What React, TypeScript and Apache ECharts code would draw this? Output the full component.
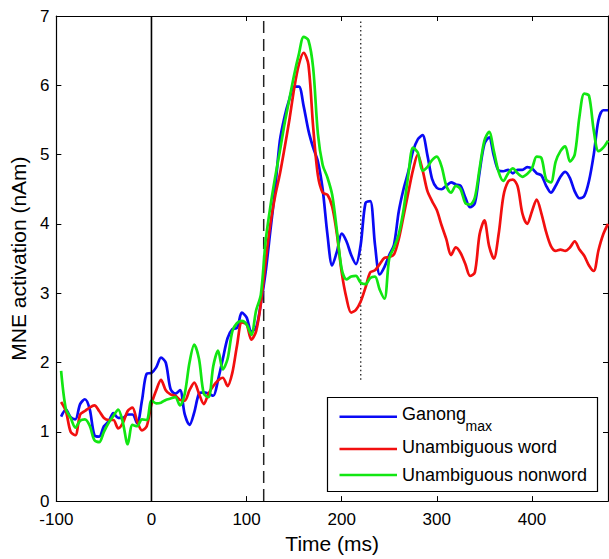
import React, { useEffect, useRef } from "react";
import * as echarts from "echarts";

const times = [
  -95, -90, -85, -80, -75, -70, -65, -60, -55, -50,
  -45, -40, -35, -30, -25, -20, -15, -10, -5, 0,
  5, 10, 15, 20, 25, 30, 35, 40, 45, 50,
  55, 60, 65, 70, 75, 80, 85, 90, 95, 100,
  105, 110, 115, 120, 125, 130, 135, 140, 145, 150,
  155, 160, 165, 170, 175, 180, 185, 190, 195, 200,
  205, 210, 215, 220, 225, 230, 235, 240, 245, 250,
  255, 260, 265, 270, 275, 280, 285, 290, 295, 300,
  305, 310, 315, 320, 325, 330, 335, 340, 345, 350,
  355, 360, 365, 370, 375, 380, 385, 390, 395, 400,
  405, 410, 415, 420, 425, 430, 435, 440, 445, 450,
  455, 460, 465, 470, 475, 480,
];

const ganongMax = [
  1.22, 1.32, 1.21, 1.18, 1.40, 1.47, 1.33, 0.95, 0.93, 1.08,
  1.15, 1.27, 1.20, 1.20, 1.25, 1.25, 1.12, 1.45, 1.84, 1.85,
  1.93, 2.07, 2.00, 1.62, 1.55, 1.60, 1.25, 1.10, 1.28, 1.55,
  1.57, 1.55, 1.52, 1.75, 2.05, 2.35, 2.48, 2.50, 2.72, 2.65,
  2.45, 2.50, 2.85, 3.30, 3.90, 4.50, 5.20, 5.55, 5.80, 5.98,
  5.98, 5.70, 5.35, 5.10, 4.90, 4.50, 3.85, 3.40, 3.60, 3.86,
  3.75, 3.55, 3.42, 3.70, 4.30, 4.33, 3.70, 3.27, 3.38, 3.55,
  3.70, 4.18, 4.50, 4.75, 5.05, 5.22, 5.28, 5.00, 4.65, 4.52,
  4.50, 4.55, 4.60, 4.57, 4.55, 4.38, 4.24, 4.30, 4.75, 5.15,
  5.25, 4.98, 4.77, 4.76, 4.78, 4.73, 4.78, 4.78, 4.82, 4.80,
  4.73, 4.70, 4.55, 4.45, 4.55, 4.68, 4.75, 4.66, 4.47, 4.37,
  4.40, 4.62, 5.00, 5.50, 5.64, 5.64,
];

const unambiguousWord = [
  1.43, 1.30, 1.00, 0.95, 1.25, 1.30, 1.35, 1.38, 1.30, 1.20,
  1.17, 1.17, 1.05, 1.13, 1.30, 1.35, 1.15, 1.02, 1.08, 1.40,
  1.60, 1.75, 1.60, 1.54, 1.52, 1.46, 1.45, 1.60, 1.71, 1.55,
  1.40, 1.55, 1.66, 1.74, 1.78, 1.66, 1.85, 2.25, 2.58, 2.55,
  2.33, 2.45, 2.85, 3.45, 4.00, 4.40, 4.72, 5.10, 5.50, 5.95,
  6.30, 6.47, 6.30, 5.40, 4.70, 4.45, 4.42, 4.25, 3.85, 3.30,
  2.93, 2.72, 2.76, 2.88, 3.08, 3.30, 3.33, 3.42, 3.51, 3.52,
  3.56, 3.78, 4.11, 4.45, 4.78, 5.00, 4.78, 4.48, 4.33, 4.20,
  3.98, 3.78, 3.55, 3.66, 3.58, 3.42, 3.25, 3.30, 3.85, 4.05,
  3.68, 3.50, 3.85, 4.40, 4.61, 4.64, 4.54, 4.15, 4.00, 4.18,
  4.35, 4.15, 3.88, 3.68, 3.61, 3.63, 3.61, 3.66, 3.75, 3.63,
  3.54, 3.40, 3.32, 3.62, 3.85, 4.00,
];

const unambiguousNonword = [
  1.88, 1.33, 1.20, 1.06, 1.16, 1.18, 1.09, 0.88, 0.85, 1.00,
  1.13, 1.23, 1.32, 1.13, 0.82, 1.10, 1.08, 1.18, 1.17, 1.45,
  1.41, 1.42, 1.46, 1.48, 1.50, 1.38, 1.55, 2.00, 2.26, 2.05,
  1.55, 1.50, 1.95, 2.17, 1.90, 2.05, 2.45, 2.57, 2.60, 2.55,
  2.40, 2.75, 2.98, 3.75, 4.25, 4.67, 5.05, 5.45, 5.80, 6.15,
  6.45, 6.70, 6.65, 6.25, 5.30, 4.85, 4.67, 4.42, 3.90, 3.35,
  3.20, 3.24, 3.25, 3.15, 3.13, 3.22, 3.24, 3.05, 2.92, 3.50,
  3.66, 3.85, 4.20, 4.70, 5.10, 5.03, 4.77, 4.82, 4.92, 4.97,
  4.83, 4.55, 4.45, 4.55, 4.50, 4.30, 4.28, 4.38, 4.80, 5.20,
  5.33, 5.05, 4.75, 4.62, 4.73, 4.80, 4.73, 4.68, 4.72, 4.80,
  4.97, 4.95, 4.64, 4.60, 4.90, 5.05, 5.12, 4.90, 5.00, 5.55,
  5.88, 5.85, 5.35, 5.05, 5.10, 5.20,
];

const seriesNames = ["Ganong", "Unambiguous word", "Unambiguous nonword"];
const seriesColors = ["#0a0af5", "#f20f0f", "#12e612"];

// vertical reference lines: [time, yFrom, yTo]
const onsetLine = [0, 0, 7];
const dashedLine = [118, 0, 6.94];
const dottedLine = [220, 1.75, 6.94];

const xTicks = { min: -100, max: 480, interval: 100 };
const yTicks = { min: 0, max: 7, interval: 1 };

const FONT = "Liberation Sans";

export default function App() {
  const ref = useRef<HTMLDivElement>(null);

  useEffect(() => {
    if (!ref.current) return;
    const chart = echarts.init(ref.current, null, { renderer: "svg" });

    const pair = (vals: number[]) => times.map((t, i) => [t, vals[i]]);
    const axisLineStyle = { color: "#000", width: 1.2 };

    const dataSeries = [ganongMax, unambiguousWord, unambiguousNonword].map((vals, i) => ({
      type: "line",
      name: seriesNames[i],
      data: pair(vals),
      showSymbol: false,
      symbol: "none",
      smooth: 0.3,
      lineStyle: { color: seriesColors[i], width: 2.7 },
      z: 3 + i,
      silent: true,
    }));

    const vline = (spec: number[], type: any, color: string, width: number, z: number) => ({
      type: "line",
      data: [
        [spec[0], spec[1]],
        [spec[0], spec[2]],
      ],
      showSymbol: false,
      symbol: "none",
      lineStyle: { color, width, type },
      z,
      silent: true,
    });

    chart.setOption({
      animation: false,
      grid: { left: 55, right: 1, top: 16, bottom: 56 },
      xAxis: [
        {
          type: "value",
          ...xTicks,
          position: "bottom",
          axisLine: { show: true, onZero: false, lineStyle: axisLineStyle },
          axisTick: { show: true, inside: true, length: 5, lineStyle: { color: "#000" } },
          axisLabel: { showMaxLabel: false, color: "#000", fontSize: 17, fontFamily: FONT, margin: 10 },
          splitLine: { show: false },
          name: "Time (ms)",
          nameLocation: "middle",
          nameGap: 31,
          nameTextStyle: { color: "#000", fontSize: 21, fontFamily: FONT },
        },
        {
          type: "value",
          ...xTicks,
          position: "top",
          axisLine: { show: true, onZero: false, lineStyle: axisLineStyle },
          axisTick: { show: true, inside: true, length: 5, lineStyle: { color: "#000" } },
          axisLabel: { show: false },
          splitLine: { show: false },
        },
      ],
      yAxis: [
        {
          type: "value",
          ...yTicks,
          position: "left",
          axisLine: { show: true, onZero: false, lineStyle: axisLineStyle },
          axisTick: { show: true, inside: true, length: 5, lineStyle: { color: "#000" } },
          axisLabel: { color: "#000", fontSize: 17, fontFamily: FONT, margin: 7 },
          splitLine: { show: false },
          name: "MNE activation (nAm)",
          nameLocation: "middle",
          nameGap: 26,
          nameTextStyle: { color: "#000", fontSize: 21, fontFamily: FONT },
        },
        {
          type: "value",
          ...yTicks,
          position: "right",
          axisLine: { show: true, onZero: false, lineStyle: axisLineStyle },
          axisTick: { show: true, inside: true, length: 5, lineStyle: { color: "#000" } },
          axisLabel: { show: false },
          splitLine: { show: false },
        },
      ],
      series: [
        vline(dashedLine, [12, 6], "#222", 1.5, 1),
        vline(dottedLine, [1.5, 2.8], "#333", 1.4, 1),
        ...dataSeries,
        vline(onsetLine, "solid", "#000", 1.6, 10),
      ],
      graphic: [
        {
          type: "group",
          z: 100,
          children: [
            {
              type: "rect",
              shape: { x: 327.5, y: 397.5, width: 270, height: 94 },
              style: { fill: "#fff", stroke: "#000", lineWidth: 1.2 },
            },
            {
              type: "line",
              shape: { x1: 339.5, y1: 416.7, x2: 397, y2: 416.7 },
              style: { stroke: seriesColors[0], lineWidth: 2.4 },
            },
            {
              type: "line",
              shape: { x1: 339.5, y1: 449, x2: 397, y2: 449 },
              style: { stroke: seriesColors[1], lineWidth: 2.4 },
            },
            {
              type: "line",
              shape: { x1: 339.5, y1: 475, x2: 397, y2: 475 },
              style: { stroke: seriesColors[2], lineWidth: 2.4 },
            },
            {
              type: "text",
              x: 402,
              y: 414,
              style: { text: seriesNames[0], fontSize: 18, fontFamily: FONT, fill: "#000", verticalAlign: "middle", align: "left" },
            },
            {
              type: "text",
              x: 465.5,
              y: 426,
              style: { text: "max", fontSize: 14, fontFamily: FONT, fill: "#000", verticalAlign: "middle", align: "left" },
            },
            {
              type: "text",
              x: 402,
              y: 447,
              style: { text: seriesNames[1], fontSize: 18, fontFamily: FONT, fill: "#000", verticalAlign: "middle", align: "left" },
            },
            {
              type: "text",
              x: 402,
              y: 475,
              style: { text: seriesNames[2], fontSize: 18, fontFamily: FONT, fill: "#000", verticalAlign: "middle", align: "left" },
            },
          ],
        },
      ],
    });

    return () => chart.dispose();
  }, []);

  return (
    <div
      ref={ref}
      style={{ position: "fixed", left: 0, top: 0, width: 609, height: 559, background: "#fff" }}
    />
  );
}
